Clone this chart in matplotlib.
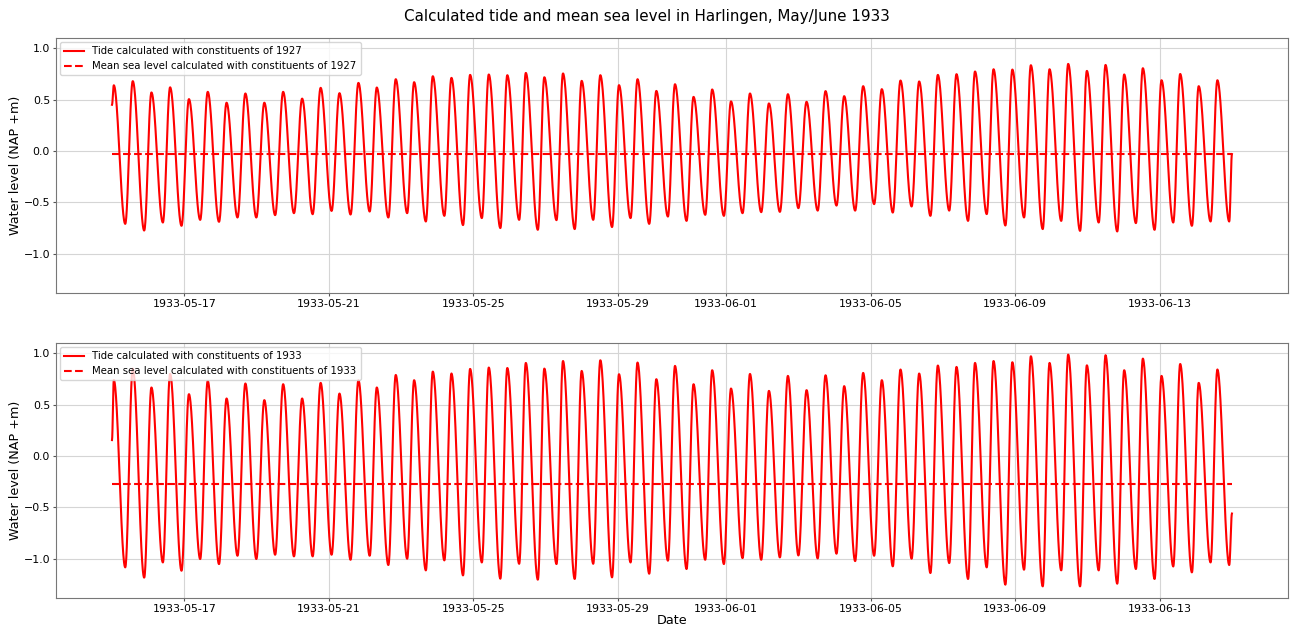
import matplotlib
matplotlib.use("Agg")
import matplotlib.pyplot as plt
import matplotlib.dates as mdates
import numpy as np

# Turning points, hours after 1933-05-15 00:00
start = np.datetime64("1933-05-15T00:00")
end_hours = 744.0

high_hours = [1.2, 13.8, 26.2, 38.6, 51.1, 63.6, 76.1, 88.6, 101.2, 113.7, 126.3, 138.6,
              151.1, 163.7, 175.9, 188.5, 200.7, 213.1, 225.5, 237.9, 250.3, 262.6, 274.9, 287.2,
              299.6, 312.0, 324.4, 336.8, 349.1, 361.6, 374.0, 386.3, 398.7, 411.2, 423.8, 436.4,
              449.0, 461.4, 474.0, 486.4, 499.0, 511.4, 523.8, 536.2, 548.6, 561.0, 573.3, 585.6,
              598.1, 610.4, 622.8, 635.2, 647.6, 660.0, 672.4, 684.8, 697.2, 709.6, 721.9, 734.3]
low_hours = [8.8, 21.4, 33.8, 46.2, 58.6, 71.1, 83.4, 95.9, 108.4, 120.9, 133.3, 145.9,
             158.5, 171.2, 183.6, 196.1, 208.5, 220.8, 233.2, 245.7, 258.0, 270.5, 282.9, 295.3,
             307.4, 319.7, 332.2, 344.5, 356.9, 369.3, 381.7, 394.1, 406.5, 418.9, 431.3, 443.7,
             456.0, 468.8, 481.3, 493.7, 506.3, 518.7, 531.2, 543.7, 556.2, 568.7, 581.1, 593.5,
             605.9, 618.3, 630.6, 643.1, 655.5, 667.8, 680.2, 692.6, 705.0, 717.4, 729.8, 742.2]

# constituents of 1927
high_1927 = [0.64, 0.68, 0.57, 0.62, 0.505, 0.576, 0.47, 0.56, 0.47, 0.576, 0.51, 0.615,
             0.563, 0.663, 0.618, 0.699, 0.67, 0.728, 0.712, 0.741, 0.745, 0.738, 0.76, 0.718,
             0.755, 0.683, 0.738, 0.641, 0.699, 0.585, 0.65, 0.527, 0.599, 0.483, 0.56, 0.463,
             0.553, 0.479, 0.583, 0.534, 0.631, 0.602, 0.686, 0.677, 0.741, 0.748, 0.774, 0.796,
             0.793, 0.835, 0.796, 0.848, 0.78, 0.838, 0.745, 0.806, 0.689, 0.75, 0.631, 0.689]
low_1927 = [-0.709, -0.774, -0.696, -0.728, -0.67, -0.689, -0.647, -0.647, -0.624, -0.605, -0.615, -0.583,
            -0.618, -0.589, -0.647, -0.605, -0.686, -0.631, -0.721, -0.653, -0.75, -0.67, -0.767, -0.673,
            -0.76, -0.67, -0.74, -0.653, -0.709, -0.638, -0.68, -0.621, -0.631, -0.605, -0.595, -0.592,
            -0.556, -0.58, -0.531, -0.58, -0.517, -0.599, -0.54, -0.631, -0.58, -0.68, -0.614, -0.725,
            -0.647, -0.76, -0.68, -0.777, -0.696, -0.783, -0.702, -0.767, -0.696, -0.728, -0.686, -0.686]
first_1927, last_1927 = 0.45, -0.03
msl_1927 = -0.03

# constituents of 1933
high_1933 = [0.74, 0.85, 0.667, 0.80, 0.602, 0.731, 0.56, 0.706, 0.544, 0.699, 0.56, 0.712,
             0.608, 0.738, 0.667, 0.789, 0.738, 0.822, 0.803, 0.848, 0.861, 0.857, 0.906, 0.851,
             0.925, 0.828, 0.932, 0.796, 0.91, 0.748, 0.877, 0.699, 0.835, 0.657, 0.799, 0.634,
             0.78, 0.641, 0.786, 0.68, 0.809, 0.738, 0.842, 0.803, 0.881, 0.867, 0.906, 0.925,
             0.913, 0.971, 0.906, 0.987, 0.883, 0.981, 0.835, 0.948, 0.78, 0.896, 0.712, 0.842]
low_1933 = [-1.084, -1.184, -1.036, -1.117, -1.003, -1.052, -0.971, -1.003, -0.961, -0.977, -0.977, -0.961,
            -1.01, -0.971, -1.061, -1.0, -1.113, -1.016, -1.162, -1.036, -1.194, -1.049, -1.204, -1.052,
            -1.197, -1.049, -1.181, -1.036, -1.146, -1.019, -1.1, -1.01, -1.052, -0.994, -1.01, -0.987,
            -0.968, -0.997, -0.951, -1.023, -0.971, -1.074, -1.0, -1.139, -1.042, -1.197, -1.084, -1.252,
            -1.107, -1.269, -1.113, -1.269, -1.113, -1.243, -1.1, -1.197, -1.075, -1.133, -1.036, -1.061]
first_1933, last_1933 = 0.155, -0.56
msl_1933 = -0.272


def tide_curve(highs, lows, first, last):
    # join the turning points with half-cosine arcs
    t = np.concatenate([[0.0], high_hours, low_hours, [end_hours]])
    v = np.concatenate([[first], highs, lows, [last]])
    order = np.argsort(t)
    t, v = t[order], v[order]
    hours = np.arange(0.0, end_hours + 0.01, 1 / 6)
    idx = np.clip(np.searchsorted(t, hours, side="right") - 1, 0, len(t) - 2)
    s = (hours - t[idx]) / (t[idx + 1] - t[idx])
    level = v[idx] + (v[idx + 1] - v[idx]) * (1 - np.cos(np.pi * s)) / 2
    times = start + (hours * 3600).astype("timedelta64[s]")
    return times, level


fig, axes = plt.subplots(2, 1, figsize=(12.93, 6.25), dpi=100, sharey=True)
fig.subplots_adjust(left=0.0433, right=0.9961, top=0.9392, bottom=0.0432, hspace=0.196)

panels = [
    (axes[0], high_1927, low_1927, first_1927, last_1927, msl_1927, "1927"),
    (axes[1], high_1933, low_1933, first_1933, last_1933, msl_1933, "1933"),
]
span = [start, start + np.timedelta64(int(end_hours), "h")]
for ax, highs, lows, first, last, msl, year in panels:
    times, level = tide_curve(highs, lows, first, last)
    ax.plot(times, level, color="red", lw=1.5,
            label=f"Tide calculated with constituents of {year}")
    ax.plot(span, [msl, msl], color="red", lw=1.5, ls="--",
            label=f"Mean sea level calculated with constituents of {year}")
    ax.xaxis.set_major_locator(mdates.DayLocator(bymonthday=range(1, 32, 4)))
    ax.xaxis.set_major_formatter(mdates.DateFormatter("%Y-%m-%d"))
    ax.set_ylim(-1.382, 1.1)
    ax.set_yticks([-1.0, -0.5, 0.0, 0.5, 1.0])
    ax.grid(True, color="#d5d5d5", lw=0.8)
    ax.tick_params(labelsize=7.9, color="#555555", length=2.5, pad=1.8)
    for spine in ax.spines.values():
        spine.set_color("#777777")
    ax.set_ylabel("Water level (NAP +m)", fontsize=9.2, labelpad=1)
    ax.legend(loc="upper left", fontsize=7.3, borderaxespad=0.4)

axes[1].set_xlabel("Date", fontsize=9.2, labelpad=0)
fig.suptitle("Calculated tide and mean sea level in Harlingen, May/June 1933", fontsize=10.9, y=0.986)

fig.savefig("out.png", dpi=100)
